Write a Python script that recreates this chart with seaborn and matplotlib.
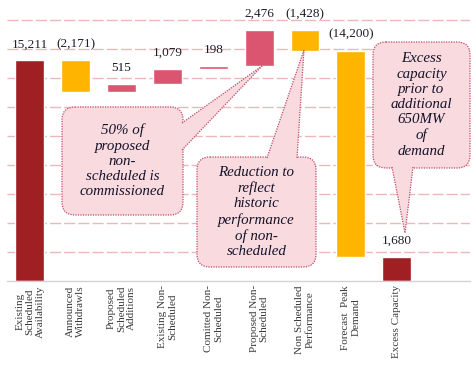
import numpy as np
import pandas as pd
import matplotlib
matplotlib.use("Agg")
import matplotlib.pyplot as plt
from matplotlib.patches import FancyBboxPatch, Polygon
from matplotlib.transforms import Affine2D
import seaborn as sns

categories = ["Existing\nScheduled\nAvailability", "Announced\nWithdrawls",
              "Proposed\nScheduled\nAdditions", "Existing Non-\nScheduled",
              "Comitted Non-\nScheduled", "Proposed Non-\nScheduled",
              "Non Scheduled\nPerformance", "Forecast  Peak\nDemand",
              "Excess Capacity"]
values = [15211, -2171, 515, 1079, 198, 2476, -1428, -14200, 1680]
value_labels = ["15,211", "(2,171)", "515", "1,079", "198", "2,476",
                "(1,428)", "(14,200)", "1,680"]
kinds = ["total", "neg", "pos", "pos", "pos", "pos", "neg", "neg", "total"]

kind_colors = {"total": "#A01F22", "neg": "#FFB400", "pos": "#DB5470"}

# waterfall bottoms
bottoms, tops = [], []
run = 0
for v, k in zip(values, kinds):
    if k == "total":
        b, t = 0, v
        run = v
    else:
        b, t = min(run, run + v), max(run, run + v)
        run = run + v
    bottoms.append(b)
    tops.append(t)

df = pd.DataFrame({"cat": categories, "height": [t - b for t, b in zip(tops, bottoms)],
                   "kind": kinds})

sns.set_theme(style="white")
plt.rcParams["font.family"] = ["Liberation Serif", "DejaVu Serif"]

W, H = 477, 369
fig = plt.figure(figsize=(W / 100, H / 100), dpi=100)
ax = fig.add_axes([7 / W, 1 - 281 / H, (470 - 7) / W, 281 / H])

sns.barplot(data=df, x="cat", y="height", hue="cat",
            palette=[kind_colors[k] for k in kinds], legend=False,
            width=0.63, ax=ax, zorder=2, saturation=1)

patches = sorted(ax.patches, key=lambda p: p.get_x())
for p, b, h in zip(patches, bottoms, df["height"]):
    p.set_y(b)
    p.set_height(h)

ax.set_xlim(-0.5, 9.6)
ax.set_ylim(0, 19380)
ax.set_yticks(np.arange(2000, 18001, 2000))
ax.yaxis.grid(True, color="#EBB9BB", linestyle=(0, (8, 2.2)), linewidth=1.0, zorder=0)
ax.set_axisbelow(True)
ax.set_yticklabels([])
ax.tick_params(axis="y", length=0)
ax.tick_params(axis="x", length=0, pad=3)
for s in ["left", "right", "top"]:
    ax.spines[s].set_visible(False)
ax.spines["bottom"].set_color("#D3D3D3")
ax.spines["bottom"].set_linewidth(1.0)
ax.set_xlabel("")
ax.set_ylabel("")
ax.set_xticks(range(len(categories)))
ax.set_xticklabels(categories, rotation=90, fontsize=8, color="#3A3A3A",
                   linespacing=1.15, ha="center", va="top")

for i, (t, lab) in enumerate(zip(tops, value_labels)):
    ax.annotate(lab, (i, t), xytext=(0, 11.5), textcoords="offset points",
                ha="center", va="center", fontsize=9.5, color="#1E1E2A")

# callouts in pixel coordinates (y from top)
pix = Affine2D().scale(1 / 100, -1 / 100).translate(0, H / 100) + fig.dpi_scale_trans
fill = "#F9DADF"
edge = "#C24A66"


def callout(x0, y0, x1, y1, base, tip, text):
    box = FancyBboxPatch((x0, y0), x1 - x0, y1 - y0,
                         boxstyle="round,pad=0,rounding_size=13",
                         transform=pix, facecolor=fill, edgecolor=edge,
                         linestyle=(0, (1, 1)), linewidth=0.9, zorder=5)
    fig.add_artist(box)
    tail = Polygon([base[0], tip, base[1]], closed=True, transform=pix,
                   facecolor=fill, edgecolor="none", zorder=6)
    fig.add_artist(tail)
    for b in base:
        fig.add_artist(plt.Line2D([b[0], tip[0]], [b[1], tip[1]], transform=pix,
                                  color=edge, linestyle=(0, (1, 1)), linewidth=0.9,
                                  zorder=7))
    fig.text((x0 + x1) / 2 / W, 1 - (y0 + y1) / 2 / H, text, ha="center", va="center",
             fontsize=10.8, style="italic", color="#14142A", linespacing=1.22, zorder=8)


callout(62, 107, 183, 215, [(182, 123), (182, 150)], (262, 66),
        "50% of\nproposed\nnon-\nscheduled is\ncommissioned")
callout(197, 157, 316, 267, [(267, 158), (297, 158)], (304, 50),
        "Reduction to\nreflect\nhistoric\nperformance\nof non-\nscheduled")
callout(373, 42, 470, 168, [(392, 167), (413, 167)], (405, 233),
        "Excess\ncapacity\nprior to\nadditional\n650MW\nof\ndemand")

fig.savefig("out.png", dpi=100)
